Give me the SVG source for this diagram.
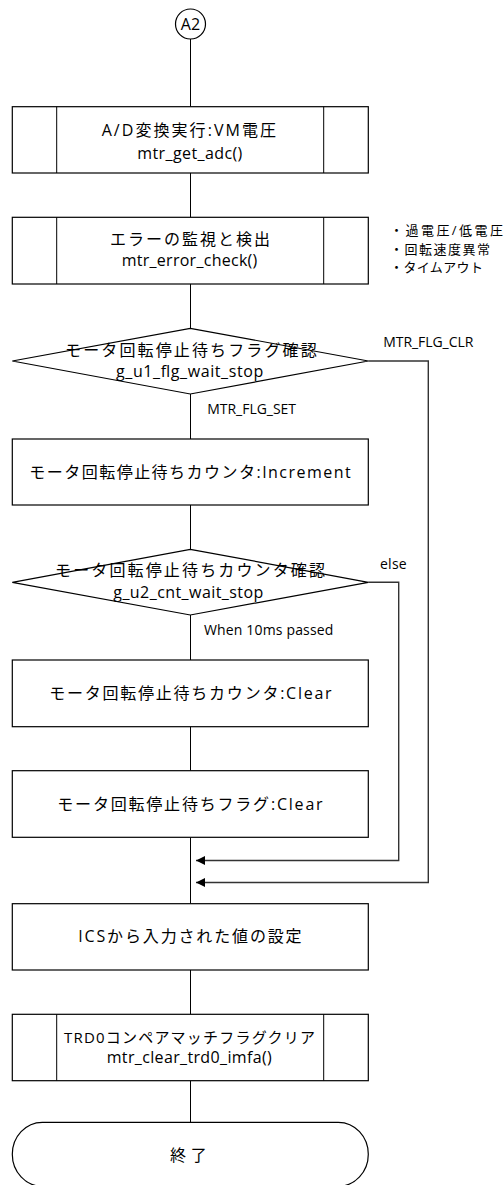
<svg xmlns="http://www.w3.org/2000/svg" width="504" height="1185" viewBox="0 0 504 1185">
<style>
.shape{fill:#fff;stroke:#000;stroke-width:1.2}
.ln{fill:none;stroke:#000;stroke-width:1}
.fb{fill:none;stroke:#333;stroke-width:1.4}
text{font-family:"Open Sans","Noto Sans CJK JP",sans-serif;fill:#000}
.m{font-size:16px}
.s{font-size:14px}
.x{font-size:13px}
</style>
<defs>
<marker id="ah" viewBox="0 0 10 10" refX="10" refY="5" markerWidth="9" markerHeight="9" markerUnits="userSpaceOnUse" orient="auto">
<path d="M0,0 L10,5 L0,10 z" fill="#000"/>
</marker>
</defs>
<rect width="504" height="1185" fill="#fff"/>
<g id="connectors">
<path class="ln" d="M190.5,39 V106.7"/>
<path class="ln" d="M190.5,173 V217.3"/>
<path class="ln" d="M190.5,284 V328.3"/>
<path class="ln" d="M190.5,394 V439"/>
<path class="ln" d="M190.5,505 V549.3"/>
<path class="ln" d="M190.5,615 V660"/>
<path class="ln" d="M190.5,726.7 V770.7"/>
<path class="ln" d="M190.5,837.3 V903.7"/>
<path class="ln" d="M190.5,970 V1014.3"/>
<path class="ln" d="M190.5,1080.7 V1122.3"/>
<path class="fb" d="M368.3,582.3 H398.7 V860.5 H196" marker-end="url(#ah)"/>
<path class="fb" d="M368.3,361 H428.3 V882.5 H196" marker-end="url(#ah)"/>
<text class="s" x="383.3" y="346.7" textLength="90" lengthAdjust="spacing">MTR_FLG_CLR</text>
<text class="s" x="207.3" y="414" textLength="88.7" lengthAdjust="spacing">MTR_FLG_SET</text>
<text class="s" x="380" y="568.7" textLength="26.7" lengthAdjust="spacing">else</text>
<text class="s" x="204" y="635" textLength="129.3" lengthAdjust="spacing">When 10ms passed</text>
</g>
<g id="n_a2">
<circle class="shape" cx="190.5" cy="24" r="15"/>
<text class="m" x="190.5" y="29.7" text-anchor="middle">A2</text>
</g>
<g id="n_adc">
<rect class="shape" x="12.3" y="106.7" width="356" height="66.3"/>
<path class="ln" d="M56.7,106.7 V173 M323.7,106.7 V173"/>
<text class="m" x="101.7" y="136" textLength="174.3" lengthAdjust="spacing">A/D変換実行:VM電圧</text>
<text class="m" x="137.3" y="159.3" textLength="105" lengthAdjust="spacing">mtr_get_adc()</text>
</g>
<g id="n_err">
<rect class="shape" x="12.3" y="217.3" width="356" height="66.7"/>
<path class="ln" d="M56.7,217.3 V284 M323.7,217.3 V284"/>
<text class="m" x="110" y="245" textLength="160" lengthAdjust="spacing">エラーの監視と検出</text>
<text class="m" x="121.7" y="266" textLength="135.6" lengthAdjust="spacing">mtr_error_check()</text>
</g>
<g id="n_note">
<text class="x" x="390" y="235" textLength="113" lengthAdjust="spacing">・過電圧/低電圧</text>
<text class="x" x="390" y="253.5" textLength="100" lengthAdjust="spacing">・回転速度異常</text>
<text class="x" x="390" y="272" textLength="93" lengthAdjust="spacing">・タイムアウト</text>
</g>
<g id="n_dec1">
<polygon class="shape" points="190.3,328.3 368.3,361 190.3,394 12.3,361"/>
<text class="m" x="65" y="356" textLength="251.7" lengthAdjust="spacing">モータ回転停止待ちフラグ確認</text>
<text class="m" x="116" y="376.5" textLength="147.3" lengthAdjust="spacing">g_u1_flg_wait_stop</text>
</g>
<g id="n_inc">
<rect class="shape" x="12.3" y="439" width="356" height="66"/>
<text class="m" x="29.3" y="478" textLength="321.3" lengthAdjust="spacing">モータ回転停止待ちカウンタ:Increment</text>
</g>
<g id="n_dec2">
<polygon class="shape" points="190.3,549.3 368.3,582.3 190.3,615 12.3,582.3"/>
<text class="m" x="55" y="576" textLength="270" lengthAdjust="spacing">モータ回転停止待ちカウンタ確認</text>
<text class="m" x="113.3" y="598" textLength="150" lengthAdjust="spacing">g_u2_cnt_wait_stop</text>
</g>
<g id="n_cntclr">
<rect class="shape" x="12.3" y="660" width="356" height="66.7"/>
<text class="m" x="49.3" y="699" textLength="282.3" lengthAdjust="spacing">モータ回転停止待ちカウンタ:Clear</text>
</g>
<g id="n_flgclr">
<rect class="shape" x="12.3" y="770.7" width="356" height="66.6"/>
<text class="m" x="57.3" y="809.5" textLength="265.3" lengthAdjust="spacing">モータ回転停止待ちフラグ:Clear</text>
</g>
<g id="n_ics">
<rect class="shape" x="12.3" y="903.7" width="356" height="66.3"/>
<text class="m" x="78.3" y="942" textLength="223.3" lengthAdjust="spacing">ICSから入力された値の設定</text>
</g>
<g id="n_trd0">
<rect class="shape" x="12.3" y="1014.3" width="356" height="66.4"/>
<path class="ln" d="M56.7,1014.3 V1080.7 M323.7,1014.3 V1080.7"/>
<text x="64" y="1043" font-size="15" textLength="251" lengthAdjust="spacing">TRD0コンペアマッチフラグクリア</text>
<text class="m" x="106.7" y="1063" textLength="165" lengthAdjust="spacing">mtr_clear_trd0_imfa()</text>
</g>
<g id="n_end">
<rect class="shape" x="12.3" y="1122.3" width="356" height="64" rx="30" ry="32"/>
<text class="m" x="170" y="1161" textLength="36.7" lengthAdjust="spacing">終了</text>
</g>
</svg>
